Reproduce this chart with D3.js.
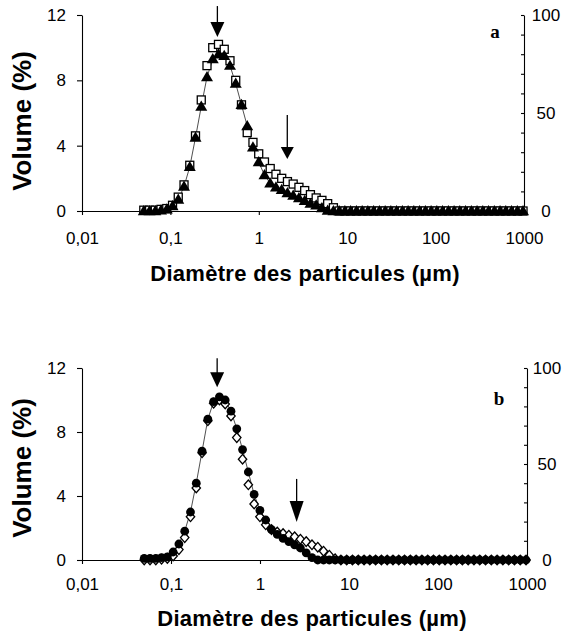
<!DOCTYPE html>
<html lang="fr">
<head>
<meta charset="utf-8">
<title>Distribution granulométrique</title>
<script src="https://d3js.org/d3.v7.min.js"></script>
<style>
  body { margin: 0; background: #fff; }
  svg text { font-family: "Liberation Sans", Arial, sans-serif; fill: #000; }
</style>
</head>
<body>
<script>

// classes granulométriques (µm)
var diametres = [0.050, 0.0581, 0.0675, 0.0783, 0.0910, 0.1057, 0.1227, 0.1426, 0.1656, 0.1923,
                 0.2234, 0.2594, 0.3013, 0.3499, 0.4064, 0.4721, 0.5483, 0.6368, 0.7396, 0.8590,
                 0.9977, 1.159, 1.346, 1.563, 1.816, 2.109, 2.449, 2.844, 3.304, 3.837,
                 4.457, 5.176, 6.012, 6.982, 8.110, 9.419, 10.94, 12.71, 14.76, 17.14,
                 19.91, 23.12, 26.85, 31.19, 36.22, 42.07, 48.87, 56.75, 65.92, 76.56,
                 88.92, 103.3, 119.9, 139.3, 161.8, 187.9, 218.3, 253.5, 294.4, 342.0,
                 397.2, 461.3, 535.8, 622.3, 722.8, 839.5, 975.0];

// panneau a : carrés ouverts / triangles pleins (volume %)
var aCarres = [0.05, 0.05, 0.05, 0.1, 0.15, 0.35, 0.85, 1.6, 2.8, 4.6,
               6.8, 8.9, 10.0, 10.2, 9.9, 9.2, 8.0, 6.5, 4.8, 4.2,
               3.5, 3.0, 2.6, 2.25, 2.0, 1.8, 1.65, 1.45, 1.25, 1.0,
               0.8, 0.65, 0.45, 0.2, 0, 0, 0, 0, 0, 0,
               0, 0, 0, 0, 0, 0, 0, 0, 0, 0,
               0, 0, 0, 0, 0, 0, 0, 0, 0, 0,
               0, 0, 0, 0, 0, 0, 0];
var aTriangles = [0, 0, 0, 0.05, 0.1, 0.3, 0.7, 1.5, 2.7, 4.5,
                  6.4, 8.2, 9.3, 9.6, 9.5, 8.9, 7.8, 6.5, 5.2, 3.9,
                  3.0, 2.2, 1.7, 1.45, 1.3, 1.1, 0.95, 0.8, 0.62, 0.45,
                  0.35, 0.18, 0.03, 0, 0, 0, 0, 0, 0, 0,
                  0, 0, 0, 0, 0, 0, 0, 0, 0, 0,
                  0, 0, 0, 0, 0, 0, 0, 0, 0, 0,
                  0, 0, 0, 0, 0, 0, 0];

// panneau b : ronds pleins / losanges ouverts (volume %)
var bRonds = [0.1, 0.1, 0.1, 0.15, 0.2, 0.5, 1.0, 1.8, 3.0, 4.8,
              6.8, 8.8, 9.9, 10.2, 10.0, 9.3, 8.2, 6.9, 5.5, 4.1,
              3.1, 2.5, 1.9, 1.6, 1.35, 1.15, 0.95, 0.75, 0.45, 0.15,
              0, 0, 0, 0, 0, 0, 0, 0, 0, 0,
              0, 0, 0, 0, 0, 0, 0, 0, 0, 0,
              0, 0, 0, 0, 0, 0, 0, 0, 0, 0,
              0, 0, 0, 0, 0, 0, 0];
var bLosanges = [0, 0, 0, 0.05, 0.1, 0.25, 0.65, 1.4, 2.7, 4.5,
                 6.7, 8.7, 9.8, 10.0, 9.75, 9.0, 7.65, 6.3, 4.7, 3.5,
                 2.7, 2.2, 1.9, 1.75, 1.65, 1.55, 1.45, 1.3, 1.15, 0.95,
                 0.8, 0.55, 0.3, 0.08, 0, 0, 0, 0, 0, 0,
                 0, 0, 0, 0, 0, 0, 0, 0, 0, 0,
                 0, 0, 0, 0, 0, 0, 0, 0, 0, 0,
                 0, 0, 0, 0, 0, 0, 0];

var xTicks = [0.01, 0.1, 1, 10, 100, 1000];
var xTickLabels = ["0,01", "0,1", "1", "10", "100", "1000"];
var yTicks = [0, 4, 8, 12];
var y2Ticks = [0, 10, 20, 30, 40, 50, 60, 70, 80, 90, 100];
var y2Labels = [0, 50, 100];

// flèches : diamètre et volume de la pointe
var aFleches = [{d: 0.34, v: 10.65}, {d: 2.1, v: 3.18}];
var bFleches = [{d: 0.33, v: 10.8}, {d: 2.58, v: 2.38}];

var svg = d3.select("body")
            .append("svg")
            .attr("width", 564)
            .attr("height", 644);

// formes des marqueurs
var triangle = "M0,-6L6,4.2L-6,4.2Z";
var losange = "M0,-4.8L4.2,0L0,4.8L-4.2,0Z";

function panneau(cfg) {
    var g = svg.append("g");

    var x = d3.scaleLog().domain([0.01, 1000]).range([cfg.left, cfg.right]);
    var y = d3.scaleLinear().domain([0, 12]).range([cfg.bottom, cfg.top]);
    var y2 = d3.scaleLinear().domain([0, 100]).range([cfg.bottom, cfg.top]);

    // axe x
    var ax = g.append("g")
              .attr("transform", "translate(0," + cfg.bottom + ")")
              .call(d3.axisBottom(x)
                      .tickValues(xTicks)
                      .tickFormat(function (d, i) { return xTickLabels[i]; })
                      .tickSize(4)
                      .tickSizeOuter(0)
                      .tickPadding(cfg.xPad));
    // axe y gauche
    var ay = g.append("g")
              .attr("transform", "translate(" + cfg.left + ",0)")
              .call(d3.axisLeft(y)
                      .tickValues(yTicks)
                      .tickSize(5)
                      .tickSizeOuter(0)
                      .tickPadding(11));
    // axe y droit (cumulé)
    var ay2 = g.append("g")
               .attr("transform", "translate(" + cfg.right + ",0)")
               .call(d3.axisRight(y2)
                       .tickValues(y2Ticks)
                       .tickFormat(function (d) { return y2Labels.indexOf(d) >= 0 ? d : ""; })
                       .tickSize(-3)
                       .tickSizeOuter(0)
                       .tickPadding(cfg.y2Pad));
    ay2.selectAll("text").attr("text-anchor", "middle");

    [ax, ay, ay2].forEach(function (a) {
        a.selectAll("text").style("font-size", "17px").style("font-family", null);
        a.selectAll("path, line").attr("stroke", "#000").attr("stroke-width", 1.1);
    });

    // titres des axes
    g.append("text")
     .attr("x", cfg.titleX)
     .attr("y", cfg.titleY)
     .attr("text-anchor", "middle")
     .style("font-size", "22px")
     .style("font-weight", "bold")
     .style("letter-spacing", "0.3px")
     .text("Diamètre des particules (µm)");

    g.append("text")
     .attr("transform", "translate(31," + cfg.yTitleY + ") rotate(-90)")
     .attr("text-anchor", "middle")
     .style("font-size", "26px")
     .style("font-weight", "bold")
     .text("Volume (%)");

    g.append("text")
     .attr("x", cfg.letterX)
     .attr("y", cfg.letterY)
     .attr("text-anchor", "middle")
     .style("font-family", "'Liberation Serif', 'Times New Roman', serif")
     .style("font-size", "19px")
     .style("font-weight", "bold")
     .text(cfg.lettre);

    // ligne fine reliant la série pleine
    var ligne = d3.line()
                  .x(function (d, i) { return x(diametres[i]); })
                  .y(function (d) { return y(d); });
    g.append("path")
     .datum(cfg.plein)
     .attr("d", ligne)
     .attr("fill", "none")
     .attr("stroke", "#222")
     .attr("stroke-width", 0.8);

    function serie(valeurs, dessin) {
        var s = g.append("g")
                 .selectAll("g")
                 .data(valeurs)
                 .enter()
                 .append("g")
                 .attr("transform", function (d, i) {
                     return "translate(" + x(diametres[i]) + "," + y(d) + ")";
                 });
        dessin(s);
    }

    serie(cfg.dessous, cfg.dessinDessous);
    serie(cfg.dessus, cfg.dessinDessus);

    // flèches
    cfg.fleches.forEach(function (f, i) {
        var st = cfg.styleFleches[i];
        var fx = x(f.d), fy = y(f.v);
        g.append("line")
         .attr("x1", fx).attr("x2", fx)
         .attr("y1", fy - st.tete - st.longueur)
         .attr("y2", fy - st.tete + 1)
         .attr("stroke", "#000")
         .attr("stroke-width", 1.3);
        g.append("path")
         .attr("d", "M" + (fx - st.demi) + "," + (fy - st.tete) +
                    "L" + (fx + st.demi) + "," + (fy - st.tete) +
                    "L" + fx + "," + fy + "Z")
         .attr("fill", "#000");
    });
}

function carres(s) {
    s.append("rect")
     .attr("x", -4).attr("y", -4)
     .attr("width", 8).attr("height", 8)
     .attr("fill", "#fff")
     .attr("stroke", "#000")
     .attr("stroke-width", 1.3);
}
function triangles(s) {
    s.append("path").attr("d", triangle).attr("fill", "#000");
}
function ronds(s) {
    s.append("circle").attr("r", 4.4).attr("fill", "#000");
}
function losanges(s) {
    s.append("path")
     .attr("d", losange)
     .attr("fill", "#fff")
     .attr("stroke", "#000")
     .attr("stroke-width", 1.3);
}

panneau({
    left: 82, right: 524, top: 15, bottom: 211,
    xPad: 17, y2Pad: 22,
    titleX: 305, titleY: 281, yTitleY: 121,
    lettre: "a", letterX: 495, letterY: 38,
    plein: aTriangles,
    dessous: aCarres, dessinDessous: carres,
    dessus: aTriangles, dessinDessus: triangles,
    fleches: aFleches,
    styleFleches: [{longueur: 16, tete: 15, demi: 7}, {longueur: 32, tete: 12, demi: 6.5}]
});

panneau({
    left: 82, right: 527, top: 368, bottom: 560,
    xPad: 14, y2Pad: 20,
    titleX: 312, titleY: 626, yTitleY: 468,
    lettre: "b", letterX: 499, letterY: 405,
    plein: bRonds,
    dessous: bLosanges, dessinDessous: losanges,
    dessus: bRonds, dessinDessus: ronds,
    fleches: bFleches,
    styleFleches: [{longueur: 14, tete: 15, demi: 7}, {longueur: 22, tete: 21, demi: 7}]
});

</script>
</body>
</html>
